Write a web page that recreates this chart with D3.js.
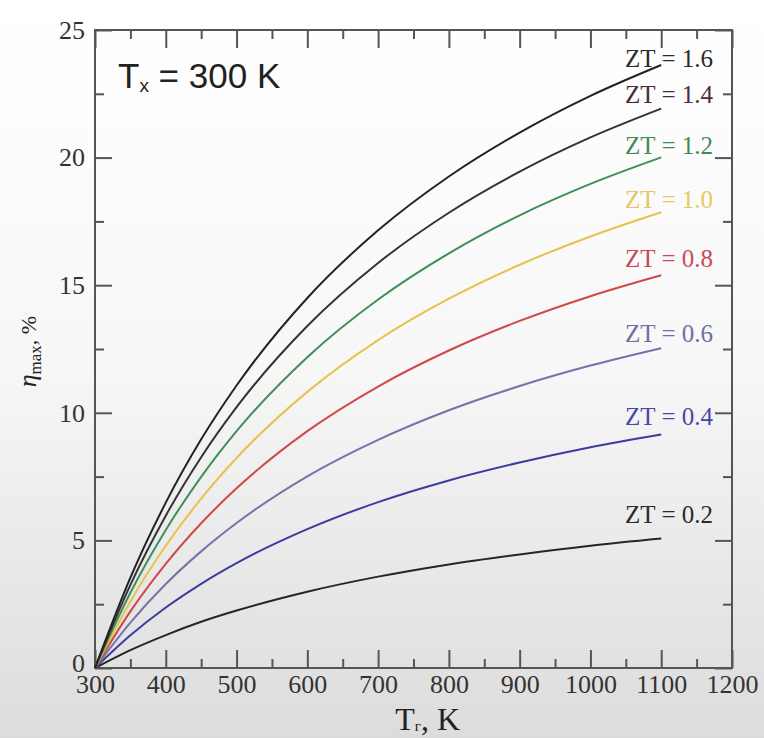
<!DOCTYPE html>
<html>
<head>
<meta charset="utf-8">
<script src="https://cdn.jsdelivr.net/npm/d3@7"></script>
<style>
  body { margin: 0; background: #fff; }
  svg { display: block; }
  .axis text { font-family: "Liberation Serif", "DejaVu Serif", serif; font-size: 26px; fill: #333; }
  .axis line { stroke: #555; stroke-width: 2; }
  .axis path { display: none; }
</style>
</head>
<body>
<script>
// hot side temperature, K
var tHot = [300, 350, 400, 450, 500, 600, 700, 800, 900, 1000, 1100];

// max efficiency in %
var eta02 = [0, 0.70, 1.29, 1.81, 2.25, 2.99, 3.58, 4.06, 4.45, 4.79, 5.07];
var eta04 = [0, 1.28, 2.37, 3.30, 4.11, 5.44, 6.50, 7.35, 8.05, 8.65, 9.15];
var eta06 = [0, 1.78, 3.29, 4.57, 5.68, 7.51, 8.94, 10.10, 11.05, 11.85, 12.53];
var eta08 = [0, 2.22, 4.08, 5.67, 7.04, 9.28, 11.03, 12.44, 13.60, 14.57, 15.39];
var eta10 = [0, 2.61, 4.79, 6.64, 8.23, 10.82, 12.85, 14.47, 15.80, 16.91, 17.86];
var eta12 = [0, 2.95, 5.41, 7.49, 9.28, 12.18, 14.44, 16.25, 17.74, 18.97, 20.01];
var eta14 = [0, 3.26, 5.97, 8.26, 10.22, 13.40, 15.87, 17.84, 19.45, 20.79, 21.92];
var eta16 = [0, 3.54, 6.48, 8.96, 11.07, 14.50, 17.15, 19.26, 20.98, 22.42, 23.63];

var zt = ["0.2", "0.4", "0.6", "0.8", "1.0", "1.2", "1.4", "1.6"];
var etaSeries = [eta02, eta04, eta06, eta08, eta10, eta12, eta14, eta16];
var lineColors = ["#262626", "#3c3ca0", "#7474aa", "#d04848", "#e8c24a", "#3f8f58", "#333333", "#222222"];
var labelColors = ["#2a2a2a", "#4848a8", "#6e6ea2", "#c84a58", "#e6c760", "#3f8a55", "#4a2c3a", "#2a2a2a"];
// label baseline, in % units
var labelAt = [5.68, 9.52, 12.77, 15.71, 18.03, 20.14, 22.14, 23.55];

var xTicks = [300, 400, 500, 600, 700, 800, 900, 1000, 1100, 1200];
var xMinor = [350, 450, 550, 650, 750, 850, 950, 1050, 1150];
var yTicks = [0, 5, 10, 15, 20, 25];
var yMinor = [2.5, 7.5, 12.5, 17.5, 22.5];

var W = 764, H = 738;
var margin = {top: 30, right: 32, bottom: 70, left: 95},
    width = W - margin.left - margin.right,
    height = H - margin.top - margin.bottom;

var svg = d3.select("body").append("svg")
    .attr("width", W)
    .attr("height", H);

// washed out video-frame background
var defs = svg.append("defs");
var grad = defs.append("linearGradient").attr("id", "bg")
    .attr("x1", 0).attr("y1", 0).attr("x2", 0).attr("y2", 1);
grad.append("stop").attr("offset", "0").attr("stop-color", "#ffffff");
grad.append("stop").attr("offset", "0.5").attr("stop-color", "#f7f7f7");
grad.append("stop").attr("offset", "1").attr("stop-color", "#dcdcdc");
svg.append("rect").attr("width", W).attr("height", H).attr("fill", "url(#bg)");

var g = svg.append("g")
    .attr("transform", "translate(" + margin.left + "," + margin.top + ")");

var x = d3.scaleLinear().domain([300, 1200]).range([0, width]);
var y = d3.scaleLinear().domain([0, 25]).range([height, 0]);

// ticks point inward on all four sides
g.append("g").attr("class", "axis")
    .attr("transform", "translate(0," + height + ")")
    .call(d3.axisBottom(x).tickValues(xTicks).tickSize(-18).tickSizeOuter(0).tickPadding(7).tickFormat(d3.format("d")));
g.append("g").attr("class", "axis")
    .attr("transform", "translate(0," + height + ")")
    .call(d3.axisBottom(x).tickValues(xMinor).tickSize(-9).tickSizeOuter(0).tickFormat(""));
g.append("g").attr("class", "axis")
    .call(d3.axisTop(x).tickValues(xTicks).tickSize(-18).tickSizeOuter(0).tickFormat(""));
g.append("g").attr("class", "axis")
    .call(d3.axisTop(x).tickValues(xMinor).tickSize(-9).tickSizeOuter(0).tickFormat(""));

var yAxisG = g.append("g").attr("class", "axis")
    .call(d3.axisLeft(y).tickValues(yTicks).tickSize(-17).tickSizeOuter(0).tickPadding(10).tickFormat(d3.format("d")));
// lift the zero a little so it sits above the 300
yAxisG.selectAll("text").filter(function(d) { return d === 0; }).attr("dy", "0.12em");
g.append("g").attr("class", "axis")
    .call(d3.axisLeft(y).tickValues(yMinor).tickSize(-9).tickSizeOuter(0).tickFormat(""));
g.append("g").attr("class", "axis")
    .attr("transform", "translate(" + width + ",0)")
    .call(d3.axisRight(y).tickValues(yTicks).tickSize(-17).tickSizeOuter(0).tickFormat(""));
g.append("g").attr("class", "axis")
    .attr("transform", "translate(" + width + ",0)")
    .call(d3.axisRight(y).tickValues(yMinor).tickSize(-9).tickSizeOuter(0).tickFormat(""));

g.append("rect")
    .attr("width", width).attr("height", height)
    .attr("fill", "none").attr("stroke", "#555").attr("stroke-width", 2);

var line = d3.line()
    .x(function(d, i) { return x(tHot[i]); })
    .y(function(d) { return y(d); })
    .curve(d3.curveMonotoneX);

etaSeries.forEach(function(s, k) {
    g.append("path")
        .datum(s)
        .attr("fill", "none")
        .attr("stroke", lineColors[k])
        .attr("stroke-width", 2)
        .attr("d", line);

    g.append("text")
        .attr("x", width - 19)
        .attr("y", y(labelAt[k]))
        .attr("text-anchor", "end")
        .style("font-family", "'Liberation Serif', serif")
        .style("font-size", "25px")
        .attr("fill", labelColors[k])
        .text("ZT = " + zt[k]);
});

// cold side note
var note = g.append("text")
    .attr("x", 23).attr("y", 58)
    .style("font-family", "'Liberation Sans', Arial, sans-serif")
    .style("font-size", "35px")
    .attr("fill", "#222");
note.append("tspan").text("T");
note.append("tspan").attr("dy", 4).style("font-size", "19px").text("х");
note.append("tspan").attr("dy", -4).text(" = 300 K");

// axis titles
var xt = svg.append("text")
    .attr("x", margin.left + x(770)).attr("y", 730)
    .attr("text-anchor", "middle")
    .style("font-family", "'Liberation Serif', serif")
    .style("font-size", "32px")
    .attr("fill", "#222");
xt.append("tspan").text("T");
xt.append("tspan").attr("dy", 1).style("font-size", "15px").text("г");
xt.append("tspan").attr("dy", -1).text(", K");

var yt = svg.append("text")
    .attr("transform", "translate(36," + (margin.top + y(12.4)) + ") rotate(-90)")
    .attr("text-anchor", "middle")
    .style("font-family", "'Liberation Serif', serif")
    .style("font-size", "26px")
    .attr("fill", "#222");
yt.append("tspan").style("font-style", "italic").text("η");
yt.append("tspan").attr("dy", 5).style("font-size", "17px").text("max");
yt.append("tspan").attr("dy", -5).style("font-size", "22px").text(", %");
</script>
</body>
</html>
